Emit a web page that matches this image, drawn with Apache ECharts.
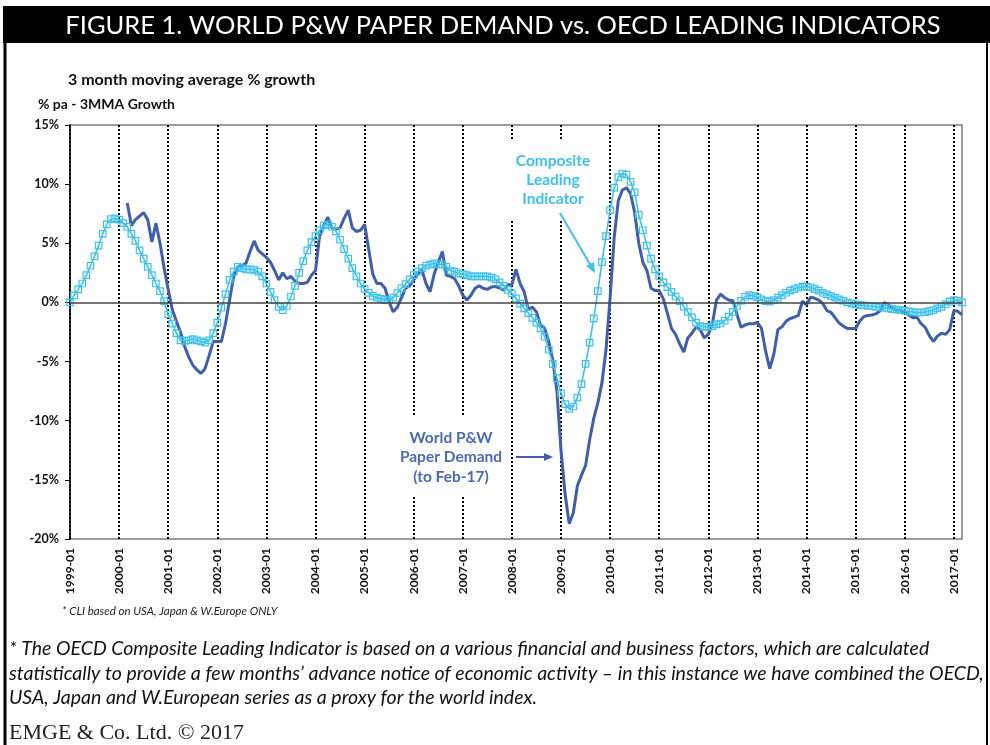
<!DOCTYPE html>
<html>
<head>
<meta charset="utf-8">
<script src="https://cdn.jsdelivr.net/npm/echarts@6/dist/echarts.min.js"></script>
<style>
html,body{margin:0;padding:0;background:#fff;}
#c{width:990px;height:745px;}
</style>
</head>
<body>
<div id="c"></div>
<script>
// ---- DATA ----
var startYear = 1999;
var monthCount = 219; // 1999-01 .. 2017-03
var yTicks = [-20, -15, -10, -5, 0, 5, 10, 15];

// OECD Composite Leading Indicator (% growth, 3MMA), monthly from 1999-01
var cliValues = [
 0, 0.6, 1.1, 1.6, 2.3, 3.1, 3.9, 4.8, 5.8, 6.6, 7.05, 7.1,
 7.0, 6.7, 6.4, 5.8, 5.2, 4.4, 3.7, 3.0, 2.3, 1.6, 0.95, 0.1,
 -1.0, -1.8, -2.6, -3.2, -3.25, -3.2, -3.1, -3.2, -3.3, -3.4, -3.2, -2.6,
 -1.7, -0.45, 0.7, 1.9, 2.6, 3.0, 2.9, 2.8, 2.8, 2.75, 2.6, 2.2,
 1.6, 0.9, 0.2, -0.37, -0.65, -0.3, 0.5, 1.4, 2.5, 3.5, 4.4, 5.1,
 5.6, 6.1, 6.5, 6.6, 6.4, 6.0, 5.3, 4.5, 3.7, 2.9, 2.2, 1.6,
 1.15, 0.8, 0.55, 0.4, 0.3, 0.2, 0.2, 0.4, 0.8, 1.2, 1.55, 1.95,
 2.3, 2.6, 2.9, 3.1, 3.2, 3.3, 3.25, 3.2, 3.0, 2.7, 2.6, 2.45,
 2.4, 2.3, 2.2, 2.2, 2.2, 2.2, 2.2, 2.1, 1.95, 1.7, 1.4, 1.05,
 0.76, 0.34, -0.1, -0.5, -0.9, -1.3, -1.7, -2.2, -2.9, -4.0, -5.2, -6.4,
 -7.7, -8.6, -9.0, -8.8, -8.05, -6.9, -5.2, -3.4, -1.35, 0.96, 3.4, 5.6,
 7.8, 9.7, 10.6, 10.9, 10.8, 10.2, 9.3, 7.4, 6.1, 4.8, 3.7, 2.8,
 2.2, 1.7, 1.3, 0.9, 0.5, 0.1, -0.37, -0.8, -1.27, -1.7, -2.0, -2.06,
 -2.06, -2.0, -1.86, -1.78, -1.55, -1.2, -0.8, -0.3, 0.14, 0.48, 0.62, 0.56,
 0.42, 0.25, 0.11, 0.06, 0.2, 0.4, 0.62, 0.82, 1.0, 1.13, 1.24, 1.33,
 1.33, 1.27, 1.13, 1.0, 0.82, 0.68, 0.54, 0.4, 0.25, 0.14, 0, -0.08,
 -0.17, -0.22, -0.25, -0.28, -0.3, -0.37, -0.42, -0.45, -0.5, -0.56, -0.6, -0.65,
 -0.7, -0.76, -0.82, -0.85, -0.85, -0.82, -0.73, -0.65, -0.5, -0.37, -0.17, 0.06,
 0.2, 0.14, 0.0
];

// World P&W Paper Demand (% growth, 3MMA), monthly, starts 2000-03
var paperStartIndex = 14;
var paperValues = [
 8.4, 6.5, 7.0, 7.3, 7.6, 7.0, 5.1, 6.7, 5.0, 2.9,
 1.1, -0.6, -1.6, -2.5, -3.7, -4.6, -5.3, -5.7, -6.0, -5.6, -4.5, -3.3,
 -3.3, -3.3, -1.8, 0.2, 2.2, 3.0, 3.1, 3.3, 4.3, 5.2, 4.4, 4.1,
 3.8, 3.4, 2.7, 1.9, 2.5, 2.0, 2.2, 1.8, 1.6, 1.6, 1.7, 2.3,
 2.7, 5.6, 6.5, 7.2, 6.3, 6.2, 6.3, 7.1, 7.8, 6.3, 6.0, 6.1,
 6.6, 4.5, 2.4, 1.6, 1.6, 1.2, 0.0, -0.8, -0.4, 0.4, 1.2, 1.4,
 1.9, 2.4, 2.75, 1.6, 0.9, 2.4, 3.4, 4.3, 2.3, 2.2, 2.0, 1.4,
 0.6, 0.2, 0.6, 1.2, 1.4, 1.2, 1.1, 1.3, 1.35, 1.2, 1.05, 1.5,
 1.5, 2.8, 1.6, 0.9, -0.6, -0.4, -0.8, -1.9, -2.2, -3.3, -4.9, -7.5,
 -12.5, -16.2, -18.7, -17.8, -15.5, -14.6, -13.8, -11.6, -9.8, -8.5, -6.8, -4.0,
 0.4, 5.5, 8.6, 9.5, 9.7, 9.2, 7.6, 5.0, 3.4, 2.7, 1.2, 1.0,
 1.0, 0.3, -0.9, -2.2, -2.7, -3.5, -4.2, -3.0, -2.6, -2.1, -2.3, -3.0,
 -2.7, -1.8, 0.2, 0.7, 0.4, 0.2, 0.15, -1.0, -2.1, -1.9, -1.8, -1.8,
 -1.7, -2.2, -4.1, -5.6, -4.4, -2.3, -2.06, -1.6, -1.36, -1.25, -1.1, 0.1,
 -0.2, 0.45, 0.35, 0.2, -0.1, -0.7, -0.85, -1.3, -1.75, -2.0, -2.2, -2.2,
 -2.2, -1.6, -1.2, -1.1, -1.07, -0.95, -0.7, 0.0, -0.2, -0.5, -0.65, -0.65,
 -0.85, -1.05, -1.3, -1.25, -1.8, -2.1, -2.8, -3.3, -2.85, -2.6, -2.7, -2.3,
 -0.7, -0.75, -1.05
];

// ---- build ----
var categories = [];
for (var i = 0; i < monthCount; i++) {
  var y = startYear + Math.floor(i / 12), m = (i % 12) + 1;
  categories.push(y + '-' + (m < 10 ? '0' + m : m));
}
var paperSeries = [];
for (var k = 0; k < monthCount; k++) {
  var j = k - paperStartIndex;
  paperSeries.push(j >= 0 && j < paperValues.length ? paperValues[j] : null);
}

var DARK = '#3F5EAC';
var LIGHT = '#3DC1EC';
var FONT = 'Lato, "Open Sans", sans-serif';

var chart = echarts.init(document.getElementById('c'), null, {renderer: 'canvas'});
chart.setOption({
  animation: false,
  backgroundColor: '#fff',
  grid: {left: 70, top: 125, right: 28, bottom: 206, show: true, borderColor: '#7a7a7a', borderWidth: 1.5, containLabel: false},
  xAxis: {
    type: 'category',
    data: categories,
    boundaryGap: false,
    axisLine: {onZero: false, show: false},
    axisTick: {show: false},
    axisLabel: {interval: 11, rotate: 90, margin: 9, fontFamily: FONT, fontWeight: 'bold', fontSize: 12, color: '#111'},
    splitLine: {show: true, interval: 11, lineStyle: {color: '#000', width: 2, type: [2, 2]}}
  },
  yAxis: {
    type: 'value',
    min: yTicks[0], max: yTicks[yTicks.length - 1], interval: 5,
    axisLine: {show: true, lineStyle: {color: '#000', width: 1.5}},
    axisTick: {show: true, length: 5, lineStyle: {color: '#000'}},
    splitLine: {show: false},
    axisLabel: {formatter: '{value}%', margin: 11, fontFamily: FONT, fontWeight: 'bold', fontSize: 12.5, color: '#111'}
  },
  series: [
    {
      name: 'World P&W Paper Demand', type: 'line', data: paperSeries,
      showSymbol: false, symbol: 'none', connectNulls: false, z: 3,
      lineStyle: {color: DARK, width: 3}, itemStyle: {color: DARK},
      markLine: {silent: true, symbol: 'none', label: {show: false},
        lineStyle: {color: '#444', width: 1.5, type: 'solid'}, data: [{yAxis: 0}]}
    },
    {
      name: 'Composite Leading Indicator', type: 'line', data: cliValues,
      symbol: 'rect', symbolSize: 6.5, showAllSymbol: true, z: 4,
      lineStyle: {color: LIGHT, width: 1.6},
      itemStyle: {color: 'rgba(255,255,255,0)', borderColor: LIGHT, borderWidth: 1.2}
    }
  ],
  graphic: [
    {type: 'rect', shape: {x: 3, y: 6, width: 987, height: 37}, style: {fill: '#000'}, z: 10},
    {type: 'text', z: 11, style: {text: 'FIGURE 1. WORLD P&W PAPER DEMAND vs. OECD LEADING INDICATORS', x: 503, y: 26, textAlign: 'center', textVerticalAlign: 'middle', font: '25.5px ' + FONT, fill: '#fff'}},
    {type: 'line', z: 10, shape: {x1: 5, y1: 43, x2: 5, y2: 745}, style: {stroke: '#000', lineWidth: 3}},
    {type: 'line', z: 10, shape: {x1: 987, y1: 43, x2: 987, y2: 745}, style: {stroke: '#000', lineWidth: 2}},
    {type: 'text', z: 11, style: {text: '3 month moving average % growth', x: 68, y: 80, textVerticalAlign: 'middle', font: 'bold 16px ' + FONT, fill: '#111'}},
    {type: 'text', z: 11, style: {text: '% pa - 3MMA Growth', x: 38, y: 104, textVerticalAlign: 'middle', font: 'bold 14px ' + FONT, fill: '#111'}},
    // annotation: CLI
    {type: 'rect', z: 20, shape: {x: 507, y: 139, width: 92, height: 82}, style: {fill: '#fff'}},
    {type: 'text', z: 21, style: {text: 'Composite\nLeading\nIndicator', x: 553, y: 180, textAlign: 'center', textVerticalAlign: 'middle', font: 'bold 15.5px ' + FONT, lineHeight: 19, fill: LIGHT}},
    {type: 'line', z: 21, shape: {x1: 560, y1: 213, x2: 591, y2: 266}, style: {stroke: LIGHT, lineWidth: 2}},
    {type: 'polygon', z: 21, shape: {points: [[595, 273], [586, 266], [594, 262]]}, style: {fill: LIGHT}},
    // annotation: paper demand
    {type: 'rect', z: 20, shape: {x: 396, y: 415, width: 113, height: 82}, style: {fill: '#fff'}},
    {type: 'text', z: 21, style: {text: 'World P&W\nPaper Demand\n(to Feb-17)', x: 451, y: 457, textAlign: 'center', textVerticalAlign: 'middle', font: 'bold 15.5px ' + FONT, lineHeight: 19.5, fill: '#4A6AB4'}},
    {type: 'line', z: 21, shape: {x1: 516, y1: 457, x2: 545, y2: 457}, style: {stroke: DARK, lineWidth: 2}},
    {type: 'polygon', z: 21, shape: {points: [[553, 457], [544, 453], [544, 461]]}, style: {fill: DARK}},
    // footnotes
    {type: 'text', z: 11, style: {text: '* CLI based on USA, Japan & W.Europe ONLY', x: 62, y: 611, textVerticalAlign: 'middle', font: 'italic 11.5px ' + FONT, fill: '#222'}},
    {type: 'text', z: 11, style: {text: '* The OECD Composite Leading Indicator is based on a various financial and business factors, which are calculated', x: 9, y: 649, textVerticalAlign: 'middle', font: 'italic 19.5px ' + FONT, fill: '#111'}},
    {type: 'text', z: 11, style: {text: 'statistically to provide a few months\u2019 advance notice of economic activity \u2013 in this instance we have combined the OECD,', x: 9, y: 674, textVerticalAlign: 'middle', font: 'italic 19.5px ' + FONT, fill: '#111'}},
    {type: 'text', z: 11, style: {text: 'USA, Japan and W.European series as a proxy for the world index.', x: 9, y: 698, textVerticalAlign: 'middle', font: 'italic 19.5px ' + FONT, fill: '#111'}},
    {type: 'text', z: 11, style: {text: 'EMGE & Co. Ltd. \u00A9 2017', x: 9, y: 733, textVerticalAlign: 'middle', font: '22px "Liberation Serif", serif', fill: '#222'}}
  ]
});
</script>
</body>
</html>
